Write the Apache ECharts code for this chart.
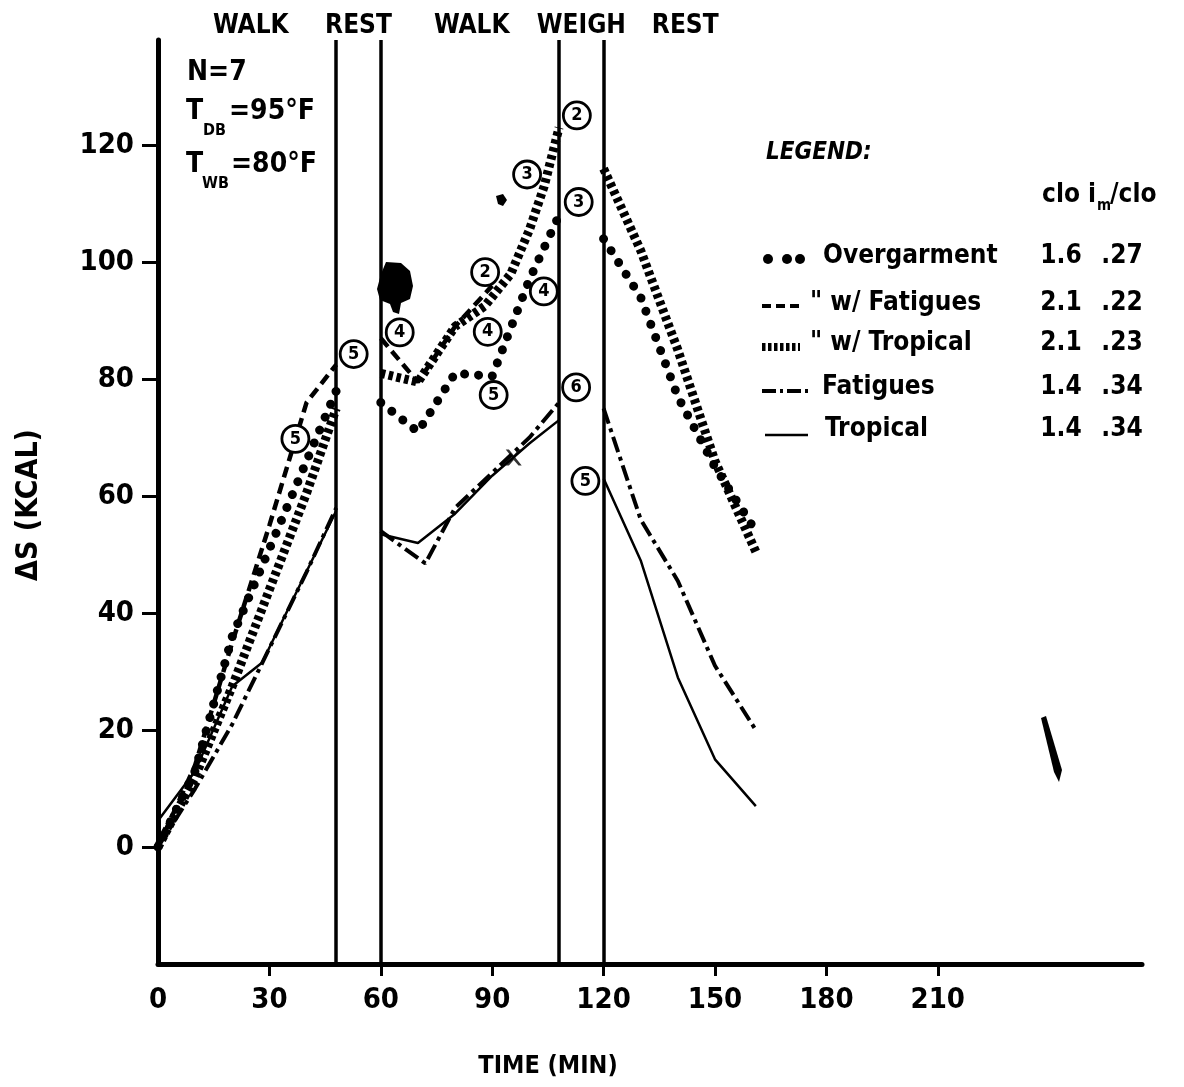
<!DOCTYPE html>
<html>
<head>
<meta charset="utf-8">
<script src="https://cdn.jsdelivr.net/npm/echarts@6/dist/echarts.min.js"></script>
<style>
  html, body { margin: 0; padding: 0; background: #fff; }
  #chart { width: 1184px; height: 1087px; }
</style>
</head>
<body>
<div id="chart"></div>
<script>
// ---- axis ticks and exposure phases (time in min) ----
const timeTicks = [0, 30, 60, 90, 120, 150, 180, 210];
const storageTicks = [0, 20, 40, 60, 80, 100, 120];
const phaseBounds = [48, 60, 108, 120];
const phaseNames = ['WALK', 'REST', 'WALK', 'WEIGH', 'REST'];
const phaseCenters = [25, 54, 84.5, 114, 142];

// ---- body heat storage ΔS (kcal) vs time (min), one array per period ----
const overgarment = [
  [[0, 0], [10, 13], [20, 36], [30, 51], [40, 66], [48, 78]],
  [[60, 76], [70, 71], [80, 81], [90, 80.5], [100, 97], [108, 108]],
  [[120, 104], [130, 94], [140, 77], [150, 65], [161, 54]]
];
const withFatigues = [
  [[0, 0], [10, 14], [20, 35], [30, 55], [40, 76], [48, 82.5]],
  [[60, 87], [70, 79.5], [80, 89], [90, 96]]
];
const withTropical = [
  [[0, 0], [10, 12], [20, 27.5], [30, 44], [40, 60.5], [48, 75]],
  [[60, 81], [70, 79.5], [80, 89], [88, 92.5], [95, 98], [100, 105.5], [104, 113], [108, 123]],
  [[120, 116], [130, 102], [140, 85], [150, 66], [161, 50.5]]
];
const fatigues = [
  [[0, 0], [10, 10], [20, 21], [30, 34], [40, 47], [48, 58]],
  [[60, 54], [72, 48.5], [80, 58], [90, 64], [100, 70], [108, 76]],
  [[120, 75], [130, 56], [140, 45.5], [150, 31], [161, 20]]
];
const tropical = [
  [[0, 4.5], [10, 13], [20, 27.5], [28, 31.5], [48, 57.5]],
  [[60, 53.5], [70, 52], [80, 57], [90, 63.5], [100, 69], [108, 73]],
  [[120, 63], [130, 49], [140, 29], [150, 15], [161, 7]]
];

// number of subjects still on test, circled beside the curves: [time, ΔS, n]
const subjectCounts = [
  [37, 69.8, '5'], [52.7, 84.3, '5'], [65.1, 88, '4'],
  [88.1, 98.3, '2'], [88.8, 88.1, '4'], [90.4, 77.3, '5'],
  [99.4, 115, '3'], [103.9, 95, '4'], [112.8, 125.1, '2'],
  [113.3, 110.3, '3'], [112.6, 78.6, '6'], [115.1, 62.6, '5']
];

// hand-drawn cross where the two single-garment curves meet
const crossMark = [[95.8, 66.6]];

// ---- legend table ----
const legendLabels = ['Overgarment', '" w/ Fatigues', '" w/ Tropical', 'Fatigues', 'Tropical'];
const cloValues = ['1.6', '2.1', '2.1', '1.4', '1.4'];
const imCloValues = ['.27', '.22', '.23', '.34', '.34'];

const FONT = "'DejaVu Sans Condensed', 'DejaVu Sans', sans-serif";
const INK = '#000';

const styles = {
  overgarment: { color: INK, width: 9, type: [0.01, 14], cap: 'round' },
  withFatigues: { color: INK, width: 4.5, type: [11, 6], cap: 'butt' },
  withTropical: { color: INK, width: 9, type: [4.5, 3.5], cap: 'butt' },
  fatigues: { color: INK, width: 4, type: [16, 5, 4, 5], cap: 'butt' },
  tropical: { color: INK, width: 2.5, type: 'solid' }
};

function segments(name, segs, lineStyle, z) {
  return segs.map(function (d) {
    return {
      type: 'line', name: name, data: d, z: z,
      showSymbol: false, symbol: 'none', silent: true,
      lineStyle: lineStyle
    };
  });
}

const series = [].concat(
  [{
    type: 'scatter', data: [], z: 1, silent: true,
    markLine: {
      silent: true, symbol: ['none', 'none'], animation: false,
      label: { show: false },
      lineStyle: { color: INK, width: 3.5, type: 'solid' },
      data: phaseBounds.map(function (t) { return { xAxis: t }; })
    }
  }],
  segments('Tropical', tropical, styles.tropical, 2),
  segments('Fatigues', fatigues, styles.fatigues, 2),
  segments('Overgarment w/ Tropical', withTropical, styles.withTropical, 3),
  segments('Overgarment w/ Fatigues', withFatigues, styles.withFatigues, 3),
  segments('Overgarment', overgarment, styles.overgarment, 3),
  [{
    type: 'scatter', data: crossMark, z: 4, silent: true,
    symbol: 'path://M0,0 L2,0 L5,3.5 L8,0 L10,0 L6,5 L10,10 L8,10 L5,6.5 L2,10 L0,10 L4,5 Z',
    symbolSize: 16, itemStyle: { color: INK }
  }],
  [{
    type: 'scatter', data: subjectCounts, z: 6, silent: true,
    symbol: 'circle', symbolSize: 27,
    itemStyle: { color: '#fff', borderColor: INK, borderWidth: 2.8, opacity: 1 },
    label: {
      show: true, position: 'inside', color: INK,
      fontFamily: FONT, fontWeight: 'bold', fontSize: 18,
      formatter: function (p) { return p.value[2]; }
    }
  }]
);

const option = {
  animation: false,
  backgroundColor: '#fff',
  grid: { left: 158, right: 42, top: 40, bottom: 123 },
  xAxis: {
    type: 'value', min: 0, max: 265, interval: 30,
    axisLine: { onZero: false, lineStyle: { color: INK, width: 5 } },
    axisTick: { customValues: timeTicks.slice(1), length: 12, lineStyle: { color: INK, width: 3 } },
    axisLabel: {
      customValues: timeTicks, color: INK, fontFamily: FONT, fontWeight: 'bold',
      fontSize: 29, margin: 22
    },
    splitLine: { show: false }
  },
  yAxis: {
    type: 'value', min: -20, max: 138, interval: 20,
    axisLine: { onZero: false, lineStyle: { color: INK, width: 5 } },
    axisTick: { customValues: storageTicks, length: 16, lineStyle: { color: INK, width: 3 } },
    axisLabel: {
      customValues: storageTicks, color: INK, fontFamily: FONT, fontWeight: 'bold',
      fontSize: 29, margin: 24
    },
    splitLine: { show: false }
  },
  series: series
};

const chart = echarts.init(document.getElementById('chart'));
chart.setOption(option);

function txt(x, y, text, size, extra) {
  const style = Object.assign({
    text: text, x: 0, y: 0, fill: INK, fontFamily: FONT, fontWeight: 'bold',
    fontSize: size, align: 'left', verticalAlign: 'middle'
  }, extra || {});
  return { type: 'text', x: x, y: y, z: 50, silent: true, style: style };
}

const graphics = [];

// phase names above the plot
phaseNames.forEach(function (name, i) {
  const p = chart.convertToPixel({ gridIndex: 0 }, [phaseCenters[i], 0]);
  graphics.push(txt(p[0], 26, name, 26, { align: 'center' }));
});

// axis titles
graphics.push({
  type: 'text', x: 29, y: 505, rotation: Math.PI / 2, z: 50, silent: true,
  style: { text: 'ΔS (KCAL)', fill: INK, fontFamily: FONT, fontWeight: 'bold', fontSize: 30,
           align: 'center', verticalAlign: 'middle' }
});
graphics.push(txt(548, 1066, 'TIME (MIN)', 25, { align: 'center' }));

// test conditions
graphics.push(txt(187, 73, 'N=7', 28));
graphics.push(txt(186, 112, 'T', 28));
graphics.push(txt(203, 131, 'DB', 16));
graphics.push(txt(229, 112, '=95°F', 28));
graphics.push(txt(186, 165, 'T', 28));
graphics.push(txt(202, 184, 'WB', 16));
graphics.push(txt(231, 165, '=80°F', 28));

// legend table
graphics.push(txt(766, 153, 'LEGEND:', 24, { fontStyle: 'italic' }));
graphics.push(txt(1061, 195, 'clo', 26, { align: 'center' }));
graphics.push(txt(1088, 195, 'i', 26));
graphics.push(txt(1097, 206, 'm', 15));
graphics.push(txt(1110, 195, '/clo', 26));

const rowY = [256, 303, 343, 387, 429];
const labelX = [823, 810, 810, 822, 825];
legendLabels.forEach(function (label, i) {
  graphics.push(txt(labelX[i], rowY[i], label, 26));
  graphics.push(txt(1061, rowY[i], cloValues[i], 26, { align: 'center' }));
  graphics.push(txt(1122, rowY[i], imCloValues[i], 26, { align: 'center' }));
});
// legend line samples
[768, 787, 800].forEach(function (cx) {
  graphics.push({ type: 'circle', z: 50, silent: true, shape: { cx: cx, cy: rowY[0] + 3, r: 5 }, style: { fill: INK } });
});
function sample(x1, x2, y, st) {
  return {
    type: 'line', z: 50, silent: true,
    shape: { x1: x1, y1: y, x2: x2, y2: y },
    style: { stroke: INK, lineWidth: st.width, lineDash: Array.isArray(st.type) ? st.type : null, lineCap: 'butt' }
  };
}
graphics.push(sample(762, 802, rowY[1] + 3, { width: 4, type: [9, 5] }));
graphics.push(sample(762, 800, rowY[2] + 4, { width: 8, type: [3.5, 2.5] }));
graphics.push(sample(762, 808, rowY[3] + 4, { width: 4, type: [14, 4, 3, 4] }));
graphics.push(sample(765, 808, rowY[4] + 6, { width: 2.5, type: 'solid' }));

// ink blots and a pen streak on the sheet
graphics.push({
  type: 'polygon', z: 40, silent: true,
  shape: { points: [[386, 262], [401, 263], [410, 271], [413, 286], [410, 299], [401, 303], [399, 314], [393, 312], [390, 304], [380, 300], [377, 289], [381, 274]] },
  style: { fill: INK }
});
graphics.push({
  type: 'polygon', z: 40, silent: true,
  shape: { points: [[496, 196], [503, 194], [507, 200], [503, 206], [498, 204]] },
  style: { fill: INK }
});
graphics.push({
  type: 'polygon', z: 40, silent: true,
  shape: { points: [[1041, 718], [1046, 716], [1062, 770], [1059, 782], [1054, 772]] },
  style: { fill: INK }
});

chart.setOption({ graphic: graphics });
</script>
</body>
</html>
